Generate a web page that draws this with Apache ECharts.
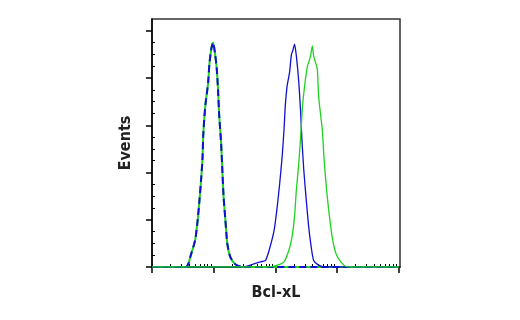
<!DOCTYPE html>
<html>
<head>
<meta charset="utf-8">
<script src="https://cdn.jsdelivr.net/npm/echarts@6/dist/echarts.min.js"></script>
<style>
  html, body { margin: 0; padding: 0; background: #fff; }
  #chart { width: 520px; height: 320px; }
</style>
</head>
<body>
<div id="chart"></div>
<script>
// x is log10 of Bcl-xL intensity (decades), y is events (scaled)
const isotype = [
  [0, 0], [0.29, 0], [0.55, 0], [0.59, 0.07], [0.62, 0.21], [0.70, 0.57], [0.74, 0.99],
  [0.77, 1.42], [0.80, 1.92], [0.82, 2.34], [0.83, 2.77], [0.85, 3.19], [0.87, 3.48],
  [0.91, 3.90], [0.93, 4.29], [0.96, 4.61], [0.99, 4.75], [1.02, 4.54], [1.05, 4.19],
  [1.07, 3.76], [1.09, 3.19], [1.12, 2.63], [1.14, 2.06], [1.16, 1.49], [1.19, 0.99],
  [1.22, 0.50], [1.27, 0.21], [1.35, 0.06], [1.46, 0], [2.0, 0], [3.0, 0], [4.0, 0]
]
const untreated = [
  [0, 0], [1.46, 0], [1.64, 0.06], [1.76, 0.11], [1.84, 0.14], [1.90, 0.36], [1.98, 0.78],
  [2.03, 1.28], [2.07, 1.77], [2.11, 2.34], [2.14, 2.91], [2.16, 3.40], [2.19, 3.83],
  [2.23, 4.12], [2.26, 4.50], [2.28, 4.57], [2.31, 4.72], [2.34, 4.47], [2.38, 3.90],
  [2.41, 3.26], [2.43, 2.70], [2.46, 2.06], [2.50, 1.42], [2.54, 0.85], [2.58, 0.43],
  [2.62, 0.14], [2.70, 0.04], [2.79, 0], [4.0, 0]
]
const treated = [
  [0, 0], [1.87, 0], [2.03, 0.04], [2.14, 0.11], [2.22, 0.36], [2.27, 0.64], [2.31, 1.06],
  [2.34, 1.63], [2.38, 2.20], [2.41, 2.77], [2.44, 3.40], [2.48, 3.90], [2.52, 4.26],
  [2.54, 4.33], [2.57, 4.47], [2.60, 4.68], [2.62, 4.47], [2.65, 4.33], [2.68, 4.19],
  [2.70, 3.62], [2.73, 3.26], [2.76, 2.91], [2.79, 2.27], [2.83, 1.63], [2.87, 1.14],
  [2.92, 0.64], [2.98, 0.29], [3.06, 0.11], [3.17, 0], [4.0, 0]
]
const xMajorTicks = [0, 1, 2, 3, 4]
const xMinorTicks = []
for (let d = 0; d < 4; d++) {
  for (let k = 2; k <= 9; k++) xMinorTicks.push(d + Math.log10(k))
}
const yMajorTicks = [0, 1, 2, 3, 4, 5]
const yMinorTicks = []
for (let i = 0; i < 21; i++) if (i % 4 !== 0) yMinorTicks.push(i * 0.25)

const BLUE = '#1010d0'
const GREEN = '#1ed21e'
const FONT = "'Liberation Sans Narrow', 'DejaVu Sans Condensed', sans-serif"

const chart = echarts.init(document.getElementById('chart'))

const xBase = { type: 'value', min: 0, max: 4.02, splitLine: { show: false }, axisLabel: { show: false } }
const yBase = { type: 'value', min: 0, max: 5.25, splitLine: { show: false }, axisLabel: { show: false } }

chart.setOption({
  animation: false,
  grid: { left: 152, right: 120, top: 19, bottom: 53, show: true, borderColor: '#333', borderWidth: 1.5 },
  xAxis: [
    {
      ...xBase,
      name: 'Bcl-xL', nameLocation: 'middle', nameGap: 18,
      nameTextStyle: { fontFamily: FONT, fontWeight: 'bold', fontSize: 16, color: '#222' },
      axisLine: { lineStyle: { color: '#000', width: 1.5 } },
      axisTick: { customValues: xMajorTicks, length: 6, lineStyle: { color: '#000', width: 1.5 } }
    },
    {
      ...xBase,
      axisLine: { show: false },
      axisTick: { customValues: xMinorTicks, length: 3, lineStyle: { color: '#000', width: 1 } }
    }
  ],
  yAxis: [
    {
      ...yBase,
      name: 'Events', nameLocation: 'middle', nameGap: 18,
      nameTextStyle: { fontFamily: FONT, fontWeight: 'bold', fontSize: 16, color: '#222' },
      axisLine: { show: true, lineStyle: { color: '#000', width: 1.5 } },
      axisTick: { show: true, customValues: yMajorTicks, length: 6, lineStyle: { color: '#000', width: 1.5 } }
    },
    {
      ...yBase,
      axisLine: { show: false },
      axisTick: { show: true, customValues: yMinorTicks, length: 3, lineStyle: { color: '#000', width: 1 } }
    }
  ],
  series: [
    { name: 'isotype green', type: 'line', data: isotype, showSymbol: false, smooth: 0.2, z: 2,
      lineStyle: { color: GREEN, width: 2 } },
    { name: 'isotype blue', type: 'line', data: isotype, showSymbol: false, smooth: 0.2, z: 3,
      lineStyle: { color: BLUE, width: 2, type: [7, 4] } },
    { name: 'untreated', type: 'line', data: untreated, showSymbol: false, smooth: 0.2, z: 4,
      lineStyle: { color: BLUE, width: 1.3 } },
    { name: 'treated', type: 'line', data: treated, showSymbol: false, smooth: 0.2, z: 4,
      lineStyle: { color: GREEN, width: 1.3 } }
  ]
})
</script>
</body>
</html>
